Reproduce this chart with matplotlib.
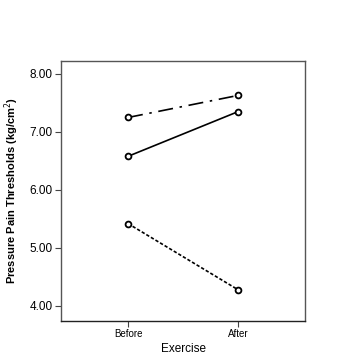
import numpy as np
import matplotlib as mpl
mpl.use('Agg')
import matplotlib.pyplot as plt

plt.rcParams['font.family'] = ['Liberation Sans', 'DejaVu Sans']

# data
timepoints = ['Before', 'After']
group_a = [7.25, 7.63]   # dash-dot
group_b = [6.58, 7.35]   # solid
group_c = [5.42, 4.28]   # dotted
y_ticks = [4.0, 5.0, 6.0, 7.0, 8.0]

fig = plt.figure(figsize=(3.54, 3.63), dpi=100)
ax = fig.add_axes([61/354, 1 - 321/363, 244/354, 260/363])

x = np.arange(1, len(timepoints) + 1)
ax.plot(x, group_a, color='black', lw=1.2, ls=(0, (9, 4, 1.5, 4)),
        marker='o', ms=4.2, mfc='white', mec='black', mew=1.3)
ax.plot(x, group_b, color='black', lw=1.2, ls='-',
        marker='o', ms=4.2, mfc='white', mec='black', mew=1.3)
ax.plot(x, group_c, color='black', lw=1.2, ls=(0, (2, 1.2)),
        marker='o', ms=4.2, mfc='white', mec='black', mew=1.3)

ax.set_xlim(0.39, 2.61)
ax.set_ylim(3.74, 8.224)
ax.set_xticks(x)
ax.set_xticklabels(timepoints, fontsize=7)
ax.set_yticks(y_ticks)
ax.set_yticklabels(['%.2f' % v for v in y_ticks], fontsize=8.5)
ax.tick_params(direction='out', length=4, width=0.8, color='#444444', pad=2)

for s in ax.spines.values():
    s.set_color('#555555')
    s.set_linewidth(1.0)
ax.spines['bottom'].set_color('#222222')

ax.set_xlabel('Exercise', fontsize=8.5, labelpad=3)
ax.set_ylabel('Pressure Pain Thresholds (kg/cm$^2$)', fontsize=8, fontweight='bold', labelpad=6)

fig.savefig('out.png', dpi=100)
